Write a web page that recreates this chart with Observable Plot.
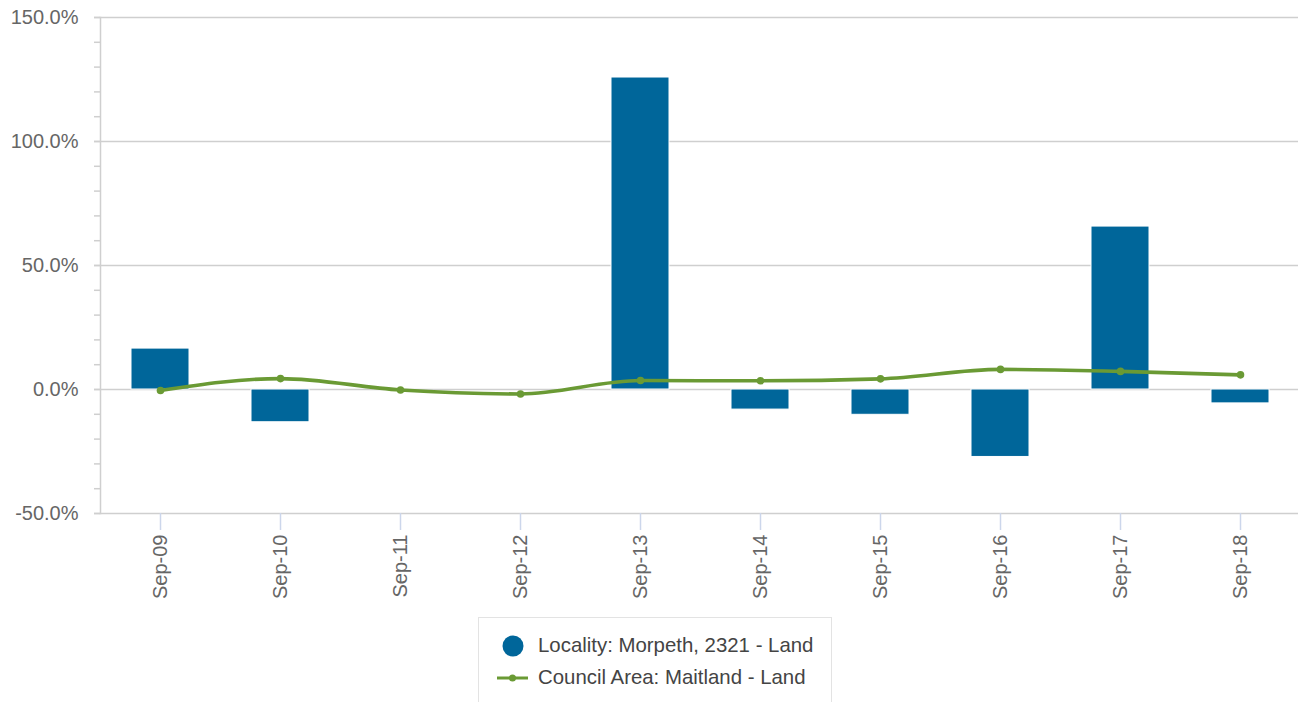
<!DOCTYPE html>
<html>
<head>
<meta charset="utf-8">
<script src="https://cdn.jsdelivr.net/npm/d3@7"></script>
<script src="https://cdn.jsdelivr.net/npm/@observablehq/plot@0.6"></script>
<style>
  html, body { margin: 0; padding: 0; background: #fff; overflow: hidden; }
  #wrap { position: relative; width: 1298px; height: 702px; font-family: "Liberation Sans", Arial, sans-serif; }
  #legend { position: absolute; left: 478px; top: 617px; width: 354px; height: 90px; border: 1px solid #e3e3e3; box-sizing: border-box; }
  .item { position: absolute; left: 0; display: flex; align-items: center; font-size: 20.4px; color: #444; white-space: nowrap; }
</style>
</head>
<body>
<div id="wrap"></div>
<script>
const categories = ["Sep-09","Sep-10","Sep-11","Sep-12","Sep-13","Sep-14","Sep-15","Sep-16","Sep-17","Sep-18"];
const localityValues = [16.5, -13.2, 0, 0, 125.8, -8.1, -10.2, -27.2, 65.7, -5.6];
const councilValues = [-0.4, 4.4, -0.2, -1.8, 3.6, 3.5, 4.3, 8.1, 7.3, 5.9];
const yTicks = [-50, 0, 50, 100, 150];
const seriesNames = ["Locality: Morpeth, 2321 - Land", "Council Area: Maitland - Land"];
const barColor = "#00669a";
const lineColor = "#6a9a34";

const bars = categories.map((c, i) => ({cat: c, value: localityValues[i]}));
const line = categories.map((c, i) => ({cat: c, value: councilValues[i]}));

const chart = Plot.plot({
  width: 1298,
  height: 610,
  marginTop: 17,
  marginBottom: 97,
  marginLeft: 100,
  marginRight: 0,
  style: {fontFamily: "'Liberation Sans', Arial, sans-serif", background: "#fff", overflow: "hidden"},
  x: {domain: categories, padding: 0, range: [100, 1300], label: null},
  y: {domain: [-50, 150], label: null},
  marks: [
    Plot.ruleY(yTicks, {stroke: "#cfcfcf", strokeWidth: 1.5, insetLeft: -6}),
    Plot.frame({anchor: "left", stroke: "#cfcfcf", strokeWidth: 1.5}),
    Plot.axisY(d3.range(-50, 151, 10), {tickSize: 6, stroke: "#cfcfcf", strokeWidth: 1.5, tickFormat: () => "", label: null}),
    Plot.axisY(yTicks, {tickSize: 0, tickPadding: 22, fontSize: 20, fill: "#666", tickFormat: d => d.toFixed(1) + "%", label: null}),
    Plot.axisX({tickSize: 17, stroke: "#ccd6eb", strokeWidth: 1.5, tickFormat: () => "", label: null}),
    Plot.axisX({tickSize: 0, tickPadding: 21, tickRotate: -90, fontSize: 20, fill: "#666", label: null}),
    Plot.barY(bars, {filter: d => d.value !== 0, x: "cat", y: "value", fill: barColor, stroke: "white", strokeWidth: 1, insetLeft: 31, insetRight: 31}),
    Plot.line(line, {x: "cat", y: "value", stroke: lineColor, strokeWidth: 3.6, curve: "monotone-x"}),
    Plot.dot(line, {x: "cat", y: "value", fill: lineColor, r: 3.8})
  ]
});

const wrap = document.getElementById("wrap");
wrap.appendChild(chart);

const legend = document.createElement("div");
legend.id = "legend";
legend.innerHTML = `
  <div class="item" style="top:16px;left:23px;">
    <svg width="22" height="22" style="margin-right:14px"><circle cx="11" cy="11" r="10.5" fill="${barColor}"/></svg>
    <span>${seriesNames[0]}</span>
  </div>
  <div class="item" style="top:48px;left:18px;">
    <svg width="31" height="22" style="margin-right:10px"><line x1="0" y1="11" x2="31" y2="11" stroke="${lineColor}" stroke-width="3"/><circle cx="15.5" cy="11" r="3.5" fill="${lineColor}"/></svg>
    <span>${seriesNames[1]}</span>
  </div>`;
wrap.appendChild(legend);
</script>
</body>
</html>
